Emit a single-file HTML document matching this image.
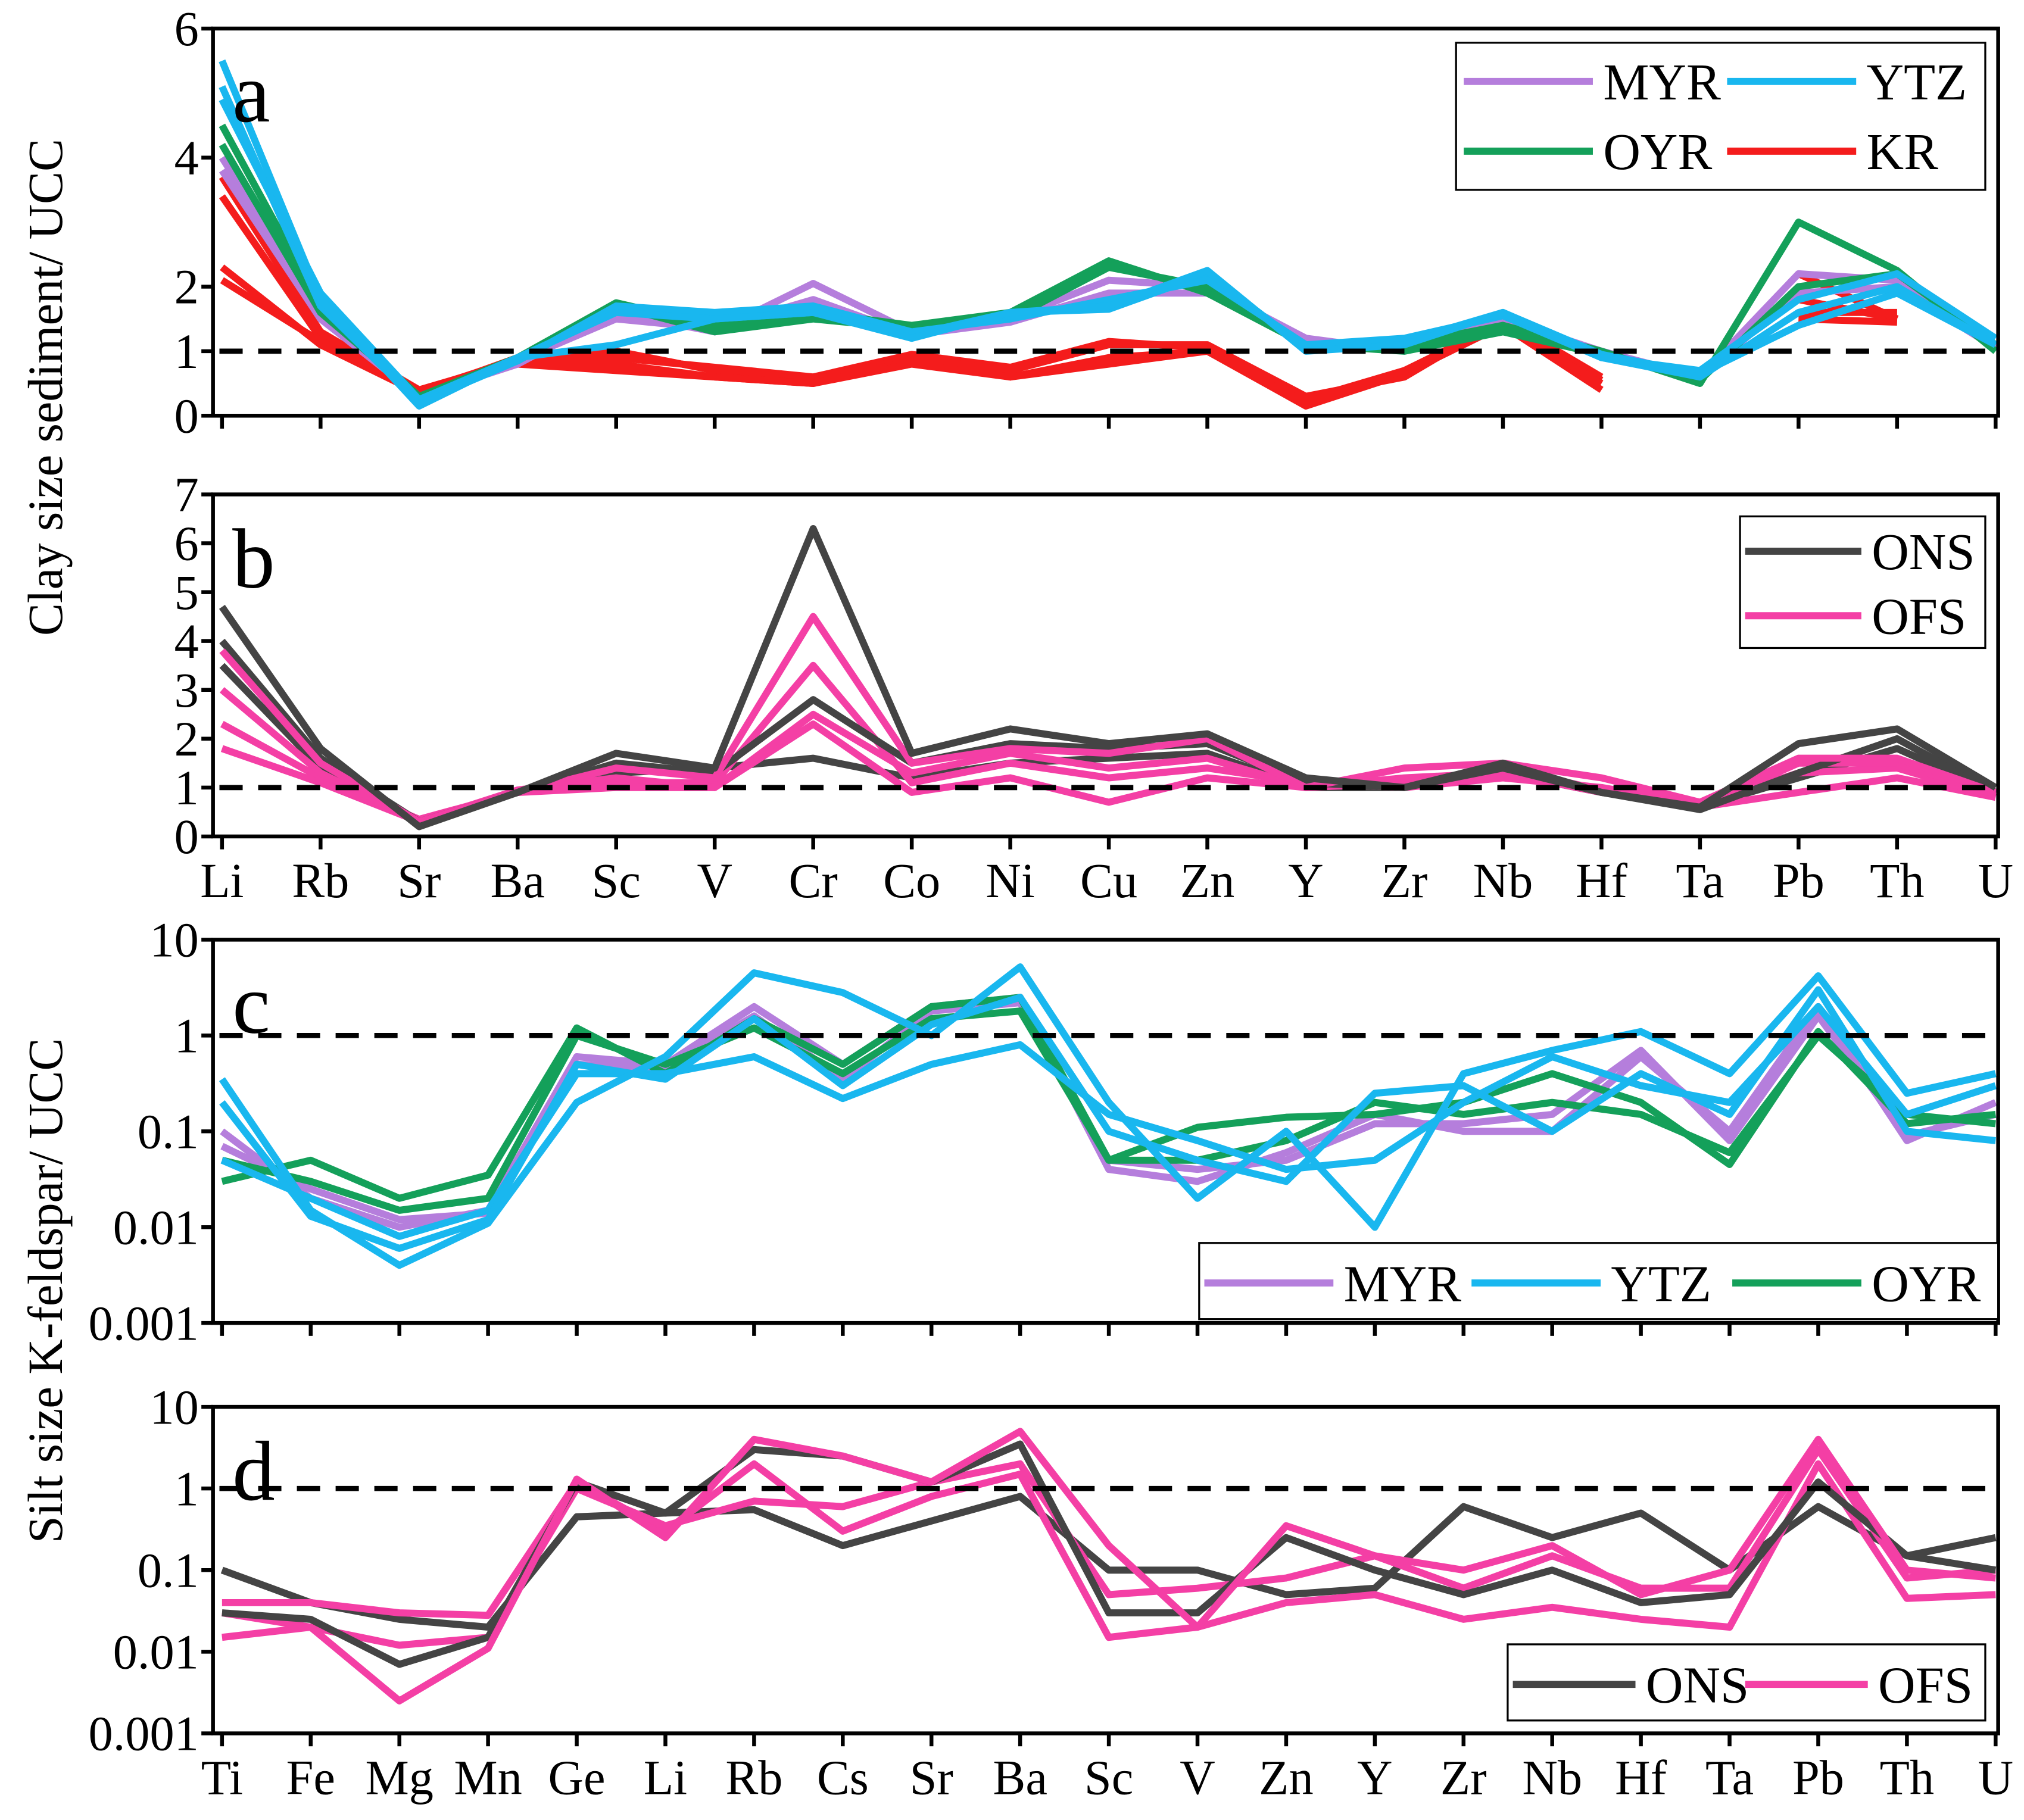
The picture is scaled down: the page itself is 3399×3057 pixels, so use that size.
<!DOCTYPE html>
<html><head><meta charset="utf-8"><style>
html,body{margin:0;padding:0;background:#fff;}
svg{display:block;}
svg text{font-family:"Liberation Serif","Times New Roman",serif;}
</style></head><body>
<svg id="fig" width="3399" height="3057" viewBox="0 0 1568 1410" xmlns="http://www.w3.org/2000/svg" font-family="Liberation Serif, serif"></svg>
<script>
// ---- categories ----
const clayElems = ["Li","Rb","Sr","Ba","Sc","V","Cr","Co","Ni","Cu","Zn","Y","Zr","Nb","Hf","Ta","Pb","Th","U"];
const siltElems = ["Ti","Fe","Mg","Mn","Ge","Li","Rb","Cs","Sr","Ba","Sc","V","Zn","Y","Zr","Nb","Hf","Ta","Pb","Th","U"];
// ---- tick labels ----
const ticksA = [0,1,2,4,6];
const ticksB = [0,1,2,3,4,5,6,7];
const ticksLog = [0.001,0.01,0.1,1,10];
const tickLogLabels = ["0.001","0.01","0.1","1","10"];
// ---- panel a series ----
const aMYR1 = [4.0,1.6,0.3,0.8,1.6,1.3,2.05,1.3,1.5,2.1,2.0,1.2,1.0,1.5,1.0,0.6,2.2,2.1,1.1];
const aMYR2 = [3.8,1.5,0.3,0.85,1.5,1.35,1.8,1.25,1.45,1.9,1.9,1.15,1.0,1.45,0.95,0.6,1.9,2.0,1.05];
const aYTZ1 = [5.5,1.8,0.15,0.9,1.6,1.5,1.6,1.2,1.6,1.7,2.25,1.0,1.1,1.6,0.9,0.6,1.6,2.0,1.1];
const aYTZ2 = [5.1,1.7,0.2,0.85,1.7,1.6,1.7,1.3,1.5,1.8,2.1,1.1,1.2,1.55,0.9,0.7,1.8,2.2,1.2];
const aYTZ3 = [4.9,1.9,0.25,0.9,1.1,1.5,1.6,1.25,1.6,1.65,2.2,1.05,1.15,1.6,0.95,0.65,1.4,1.9,1.1];
const aOYR1 = [4.5,1.7,0.3,0.9,1.75,1.4,1.6,1.4,1.6,2.4,1.9,1.1,1.1,1.4,1.0,0.5,3.0,2.25,1.0];
const aOYR2 = [4.2,1.6,0.3,0.85,1.7,1.3,1.5,1.35,1.5,2.3,2.0,1.1,1.0,1.3,0.95,0.55,2.0,2.2,1.1];
const aKR1 = [3.7,1.3,0.4,0.8,0.7,0.6,0.5,0.8,0.6,0.8,1.0,0.2,0.7,1.4,0.5,null,2.2,1.5,null];
const aKR2 = [2.3,1.1,0.35,0.9,1.0,0.7,0.55,0.9,0.7,1.1,1.1,0.3,0.6,1.5,0.6,null,1.6,1.6,null];
const aKR3 = [3.4,1.2,0.4,0.85,0.8,0.6,0.5,0.85,0.6,0.9,1.0,0.15,0.65,1.4,0.4,null,1.8,1.5,null];
const aKR4 = [2.1,1.15,0.38,0.88,0.9,0.75,0.6,0.95,0.75,1.15,1.05,0.25,0.7,1.45,0.55,null,1.5,1.45,null];
// ---- panel b series ----
const bONS1 = [4.7,1.8,0.2,0.9,1.7,1.4,6.3,1.7,2.2,1.9,2.1,1.2,1.0,1.5,0.9,0.6,1.9,2.2,1.0];
const bONS2 = [4.0,1.6,0.3,0.9,1.5,1.3,2.8,1.5,1.9,1.8,1.9,1.1,1.0,1.4,0.9,0.55,1.3,2.0,0.9];
const bONS3 = [3.5,1.4,0.3,0.9,1.3,1.4,1.6,1.2,1.5,1.6,1.7,1.0,1.0,1.3,0.9,0.6,1.2,1.8,0.9];
const bOFS1 = [3.8,1.5,0.3,0.9,1.4,1.2,4.5,1.5,1.8,1.7,2.0,1.0,1.4,1.5,1.2,0.7,1.6,1.6,0.9];
const bOFS2 = [2.3,1.2,0.35,0.9,1.0,1.0,2.3,0.9,1.2,0.7,1.2,1.0,1.2,1.3,0.9,0.6,0.9,1.2,0.8];
const bOFS3 = [1.8,1.1,0.3,0.9,1.1,1.1,3.5,1.1,1.5,1.2,1.4,1.1,1.0,1.2,1.0,0.65,1.3,1.4,0.8];
const bOFS4 = [3.0,1.3,0.3,0.95,1.2,1.0,2.5,1.3,1.7,1.4,1.6,1.0,1.1,1.4,0.95,0.6,1.5,1.5,0.85];
// ---- panel c series ----
const cMYR1 = [0.1,0.02,0.01,0.015,0.6,0.5,2.0,0.5,2.0,2.5,0.04,0.03,0.06,0.15,0.1,0.1,0.6,0.1,2.0,0.08,0.2];
const cMYR2 = [0.07,0.025,0.012,0.014,0.5,0.45,1.6,0.35,1.8,2.2,0.05,0.04,0.05,0.12,0.12,0.15,0.7,0.08,1.6,0.09,0.15];
const cYTZ1 = [0.35,0.015,0.004,0.011,0.2,0.6,4.5,2.8,1.0,5.2,0.2,0.02,0.1,0.01,0.4,0.7,1.1,0.4,4.2,0.25,0.4];
const cYTZ2 = [0.2,0.013,0.006,0.012,0.5,0.35,1.5,0.3,1.3,2.5,0.1,0.05,0.03,0.25,0.3,0.1,0.4,0.15,3.0,0.1,0.08];
const cYTZ3 = [0.05,0.02,0.008,0.015,0.4,0.4,0.6,0.22,0.5,0.8,0.15,0.08,0.04,0.05,0.2,0.6,0.3,0.2,2.0,0.15,0.3];
const cOYR1 = [0.03,0.05,0.02,0.035,1.2,0.4,1.5,0.5,2.0,2.5,0.05,0.11,0.14,0.15,0.2,0.4,0.2,0.045,1.1,0.12,0.15];
const cOYR2 = [0.05,0.03,0.015,0.02,1.0,0.5,1.2,0.4,1.5,1.8,0.05,0.05,0.08,0.2,0.15,0.2,0.15,0.06,1.0,0.15,0.12];
// ---- panel d series ----
const dONS1 = [0.1,0.04,0.025,0.02,0.45,0.5,0.55,0.2,0.4,0.8,0.1,0.1,0.05,0.06,0.6,0.25,0.5,0.1,0.6,0.15,0.25];
const dONS2 = [0.03,0.025,0.007,0.015,1.2,0.5,3.0,2.5,1.2,3.5,0.03,0.03,0.25,0.1,0.05,0.1,0.04,0.05,1.2,0.15,0.1];
const dOFS1 = [0.015,0.02,0.0025,0.011,1.3,0.25,4.0,2.5,1.2,5.0,0.2,0.02,0.35,0.15,0.1,0.2,0.05,0.1,4.0,0.1,0.08];
const dOFS2 = [0.04,0.04,0.03,0.028,1.2,0.3,2.0,0.3,0.8,1.5,0.015,0.02,0.04,0.05,0.025,0.035,0.025,0.02,2.0,0.045,0.05];
const dOFS3 = [0.03,0.02,0.012,0.015,1.0,0.35,0.7,0.6,1.2,2.0,0.05,0.06,0.08,0.15,0.06,0.15,0.06,0.06,3.0,0.08,0.1];

const C = {MYR:"#b57edc",YTZ:"#19b7ef",OYR:"#14a05a",KR:"#f41c1c",ONS:"#444444",OFS:"#f43fa5"};
const NS = "http://www.w3.org/2000/svg";
const FONT = "Liberation Serif, Times New Roman, serif";
const svg = document.getElementById("fig");
function mk(tag, attrs, parent){
  const e = document.createElementNS(NS, tag);
  for (const k in attrs) e.setAttribute(k, attrs[k]);
  if (tag === "text") e.setAttribute("font-family", FONT);
  (parent||svg).appendChild(e);
  return e;
}
const X0 = 170, X1 = 1548;

function panel(name, top, bottom, cats, yfn, yticks, ylabels, showX, letter, series){
  const g = mk("g", {});
  
  
  const x0 = 172, x1 = 1546;
  const xs = i => x0 + (x1 - x0) * i / (cats.length - 1);
  series.forEach(s => {
    let d = "", pen = false;
    s.vals.forEach((v, i) => {
      if (v === null) { pen = false; return; }
      d += (pen ? "L" : "M") + xs(i).toFixed(1) + "," + yfn(v).toFixed(1);
      pen = true;
    });
    const p = mk("path", {d: d, fill: "none", stroke: C[s.grp], "stroke-width": 5.5, "stroke-linejoin": "round"}, g);
    
    
  });
  const ref = mk("line", {x1: X0, x2: X1, y1: yfn(1), y2: yfn(1), stroke: "#000", "stroke-width": 4, "stroke-dasharray": "18 12"}, g);
  
  
  const fr = mk("rect", {x: X0 - 5, y: top, width: X1 - X0 + 5, height: bottom - top, fill: "none", stroke: "#000", "stroke-width": 3}, g);
  
  
  yticks.forEach((t, i) => {
    const y = yfn(t);
    mk("line", {x1: X0 - 14, x2: X0 - 5, y1: y, y2: y, stroke: "#000", "stroke-width": 3}, g);
    const tx = mk("text", {x: X0 - 16, y: y + 13, "text-anchor": "end", "font-size": 38}, g);
    tx.textContent = ylabels[i];
    
    
  });
  cats.forEach((c, i) => {
    mk("line", {x1: xs(i), x2: xs(i), y1: bottom, y2: bottom + 10, stroke: "#000", "stroke-width": 3}, g);
    if (showX) {
      const tx = mk("text", {x: xs(i), y: bottom + 47, "text-anchor": "middle", "font-size": 38}, g);
      tx.textContent = c;
      
      
    }
  });
  const lt = mk("text", {x: 180, y: top + 72, "font-size": 66}, g);
  lt.textContent = letter;
  
  
  return g;
}

function legend(name, x, y, w, h, rows){
  const g = mk("g", {});
  
  
  mk("rect", {x: x, y: y, width: w, height: h, fill: "#fff", stroke: "#000", "stroke-width": 1.5}, g);
  rows.forEach(r => {
    const ln = mk("line", {x1: r.x, x2: r.x + r.len, y1: r.y, y2: r.y, stroke: C[r.grp], "stroke-width": 5.5}, g);
    
    
    const t = mk("text", {x: r.x + r.len + 8, y: r.y + 14, "font-size": 40}, g);
    t.textContent = r.grp;
    
    
  });
}

const yA = v => 322 - v * 50;
panel("panel-a", 22, 322, clayElems, yA, ticksA, ticksA.map(String), false, "a", [
  {grp:"KR",vals:aKR4},{grp:"KR",vals:aKR2},{grp:"KR",vals:aKR3},{grp:"KR",vals:aKR1},
  {grp:"MYR",vals:aMYR2},{grp:"MYR",vals:aMYR1},
  {grp:"OYR",vals:aOYR2},{grp:"OYR",vals:aOYR1},
  {grp:"YTZ",vals:aYTZ3},{grp:"YTZ",vals:aYTZ2},{grp:"YTZ",vals:aYTZ1}
]);
legend("legend-a", 1128, 33, 410, 114, [
  {grp:"MYR",x:1134,y:63,len:100},{grp:"YTZ",x:1338,y:63,len:100},
  {grp:"OYR",x:1134,y:117,len:100},{grp:"KR",x:1338,y:117,len:100}
]);
const yB = v => 648 - v * 37.86;
panel("panel-b", 383, 648, clayElems, yB, ticksB, ticksB.map(String), true, "b", [
  {grp:"ONS",vals:bONS3},{grp:"OFS",vals:bOFS2},{grp:"OFS",vals:bOFS3},{grp:"OFS",vals:bOFS4},
  {grp:"ONS",vals:bONS2},{grp:"OFS",vals:bOFS1},{grp:"ONS",vals:bONS1}
]);
legend("legend-b", 1348, 400, 190, 102, [
  {grp:"ONS",x:1352,y:427,len:90},{grp:"OFS",x:1352,y:477,len:90}
]);
const yC = v => 1025 - (Math.log10(v) + 3) * 74.25;
panel("panel-c", 728, 1025, siltElems, yC, ticksLog, tickLogLabels, false, "c", [
  {grp:"MYR",vals:cMYR2},{grp:"MYR",vals:cMYR1},
  {grp:"OYR",vals:cOYR2},{grp:"OYR",vals:cOYR1},
  {grp:"YTZ",vals:cYTZ3},{grp:"YTZ",vals:cYTZ2},{grp:"YTZ",vals:cYTZ1}
]);
legend("legend-c", 929, 963, 619, 59, [
  {grp:"MYR",x:933,y:994,len:100},{grp:"YTZ",x:1140,y:994,len:100},{grp:"OYR",x:1342,y:994,len:100}
]);
const yD = v => 1343 - (Math.log10(v) + 3) * 63.25;
panel("panel-d", 1090, 1343, siltElems, yD, ticksLog, tickLogLabels, true, "d", [
  {grp:"ONS",vals:dONS1},{grp:"OFS",vals:dOFS2},{grp:"OFS",vals:dOFS3},
  {grp:"ONS",vals:dONS2},{grp:"OFS",vals:dOFS1}
]);
legend("legend-d", 1168, 1274, 370, 59, [
  {grp:"ONS",x:1172,y:1305,len:95},{grp:"OFS",x:1352,y:1305,len:95}
]);

const t1 = mk("text", {x: 0, y: 0, "font-size": 38, "text-anchor": "middle", transform: "translate(48,300) rotate(-90)"});
t1.textContent = "Clay size sediment/ UCC";


const t2 = mk("text", {x: 0, y: 0, "font-size": 38, "text-anchor": "middle", transform: "translate(48,1000) rotate(-90)"});
t2.textContent = "Silt size K-feldspar/ UCC";


</script>
</body></html>
